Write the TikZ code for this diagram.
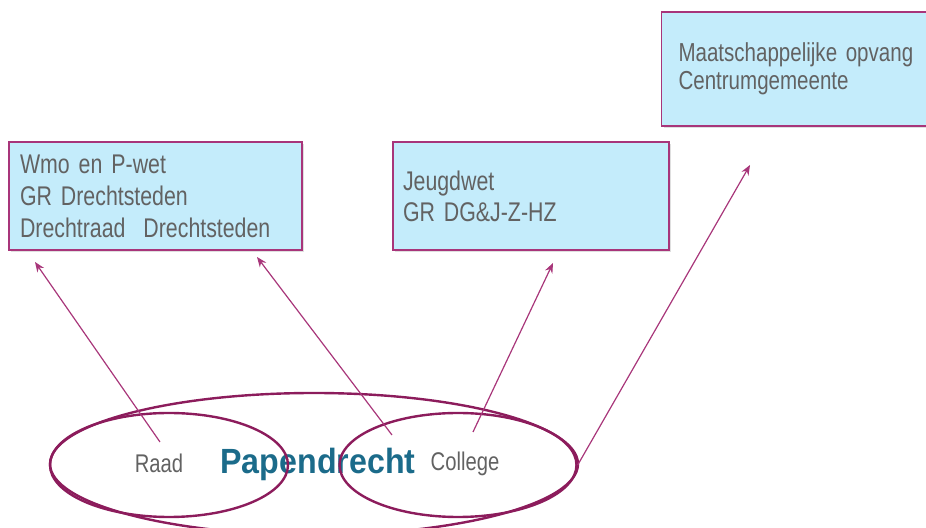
\documentclass[tikz,border=0pt]{standalone}
\usepackage{fontspec}
\setmainfont{Liberation Sans}
\newfontfamily\narrowsans[FakeStretch=0.79]{Liberation Sans}
\newfontfamily\townsans[FakeStretch=0.92]{Liberation Sans}
\newcommand\lawfont[2]{\narrowsans\fontsize{#1}{#2}\selectfont\fontdimen2\font=0.19em\relax}
\usetikzlibrary{positioning, arrows.meta, shapes.geometric, shadows}
\definecolor{boxfill}{HTML}{C4ECFB}
\definecolor{boxline}{HTML}{A8357A}
\definecolor{ringline}{HTML}{8C1C5C}
\definecolor{arrowline}{HTML}{A8367A}
\definecolor{labelgray}{HTML}{626262}
\definecolor{townblue}{HTML}{1B6B8A}
\tikzstyle{Arrow} = [
	arrowline,
	line width=0.6pt,
	-{Stealth[length=5pt, width=4pt]}
	]

\begin{document}
\begin{tikzpicture}[x=0.5pt, y=-0.5pt,
law/.style={rectangle,
	draw=boxline,
	line width=0.8pt,
	fill=boxfill,
	text=labelgray,
	align=left,
	drop shadow={shadow xshift=1pt, shadow yshift=-1.2pt, opacity=0.25}
	},
ring/.style={ellipse, draw=ringline, line width=1.2pt, inner sep=0pt},
side/.style={text=labelgray, font=\lawfont{12.8}{14}, anchor=base}
]
 \useasboundingbox (0,0) rectangle (926,528);

 % boxes
 \node [law, font=\lawfont{13.5}{16}, inner xsep=5.5pt,
   text width=135.5pt, minimum height=54pt] (wmo) at (155.5,196) {
   Wmo en P-wet\\
   GR Drechtsteden\\
   Drechtraad\ \ Drechtsteden};
 \node [law, font=\lawfont{13.5}{15.5}, inner xsep=5pt,
   text width=128pt, minimum height=54pt] (jeugd) at (531,196) {
   Jeugdwet\\
   GR DG\&J-Z-HZ};
 \node [law, font=\lawfont{13}{14}, inner xsep=8.5pt,
   text width=122pt, minimum height=57pt] (opvang) at (800.5,69) {
   Maatschappelijke opvang\\
   Centrumgemeente};

 % texts
 \node [text=townblue, font=\townsans\bfseries\fontsize{17.5}{19}\selectfont, anchor=base] (town) at (318,474) {Papendrecht};
 \node [side] (raad) at (159,473) {Raad};
 \node [side] (college) at (465,471) {College};

 % rings
 \node [ring, minimum width=264pt, minimum height=71pt] (all) at (314,464) {};
 \node [ring, minimum width=119pt, minimum height=52pt] (raadring) at (169,465) {};
 \node [ring, minimum width=118.5pt, minimum height=52pt] (collegering) at (458,465) {};

 % arrows
 \coordinate (r1) at (160,442);
 \coordinate (c1) at (392,435);
 \coordinate (c2) at (473,432);
 \coordinate (wmo1) at (35,262);
 \coordinate (wmo2) at (257,257);
 \coordinate (jeugd1) at (553,263);
 \coordinate (opvang1) at (750,165);

 \draw[Arrow] (r1) -- (wmo1);
 \draw[Arrow] (c1) -- (wmo2);
 \draw[Arrow] (c2) -- (jeugd1);
 \draw[Arrow] (collegering.east) -- (opvang1);

\end{tikzpicture}
\end{document}
